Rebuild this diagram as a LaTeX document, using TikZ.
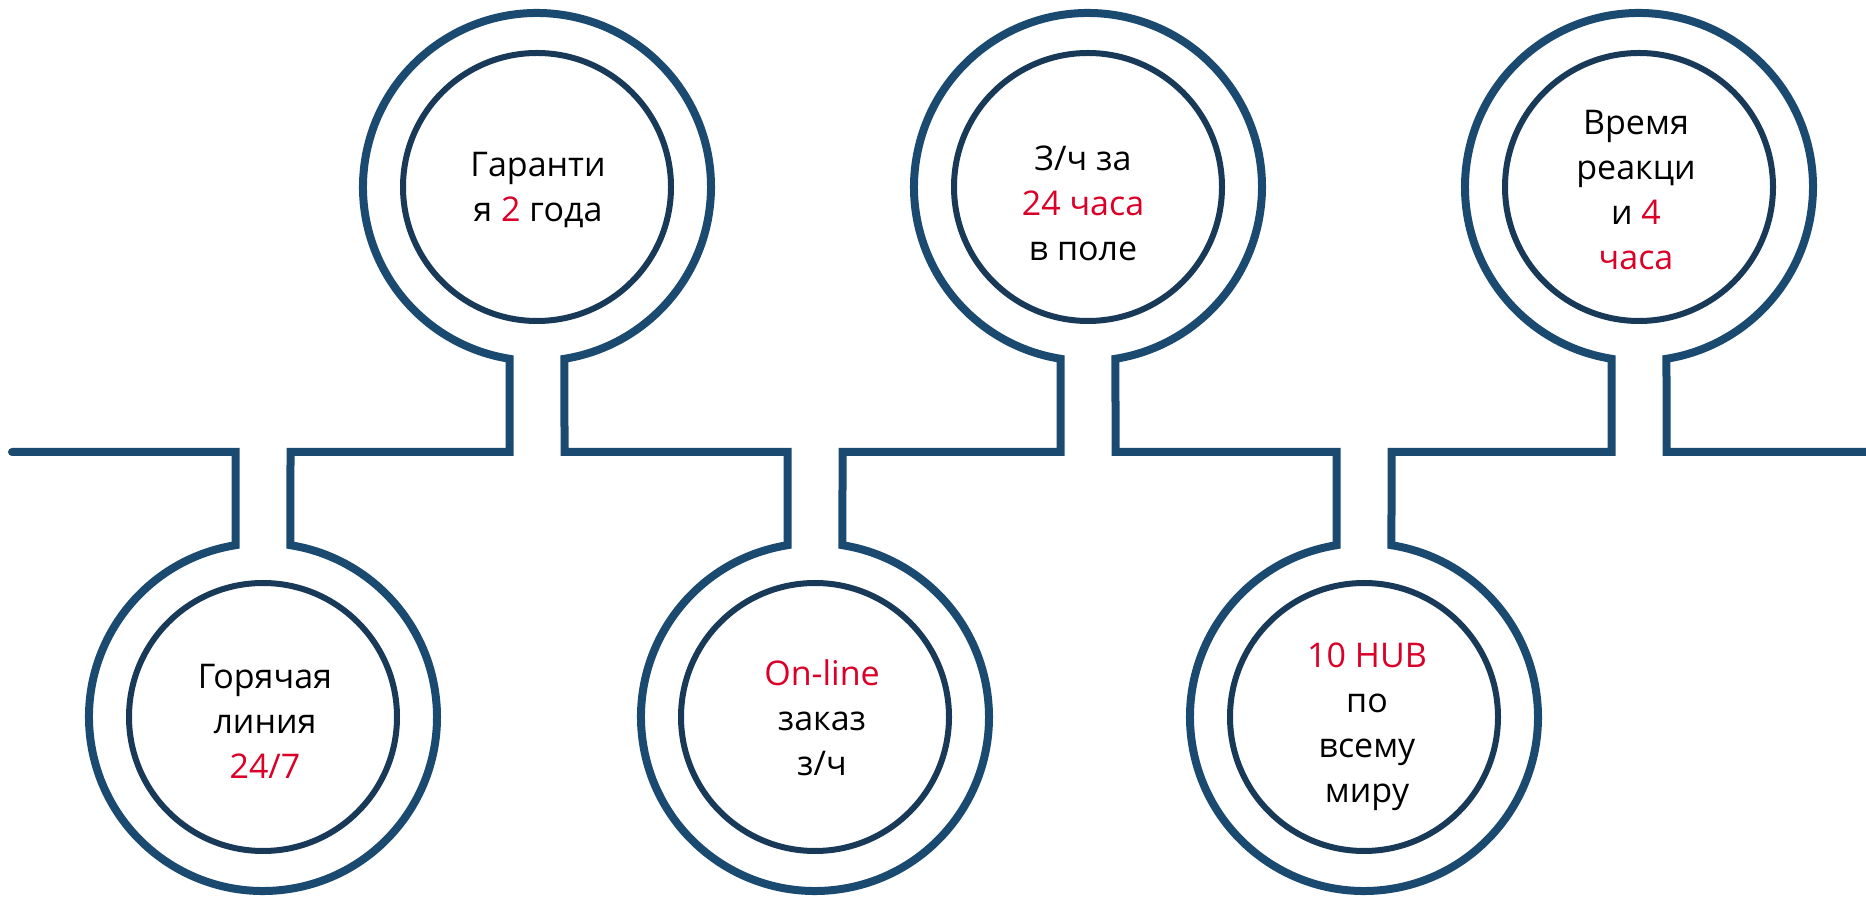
\documentclass[tikz,border=0pt]{standalone}
\usepackage{fontspec}
\setmainfont{Open Sans}
\definecolor{pipeblue}{RGB}{27,74,112}
\definecolor{ringblue}{RGB}{24,58,88}
\definecolor{accent}{RGB}{218,0,40}
\begin{document}
\begin{tikzpicture}[x=1pt,y=1pt,
  pipe/.style={draw=pipeblue, line width=8pt, line join=miter},
  ring/.style={circle, draw=ringblue, line width=6pt, minimum size=268pt, inner sep=0pt},
  lbl/.style={align=center, font=\fontsize{34}{45}\selectfont, text=black, inner sep=0pt}]
\useasboundingbox (0,0) rectangle (1866,897);
% circle centres
\coordinate (b1) at (263,180);
\coordinate (t1) at (537,710);
\coordinate (b2) at (815,180);
\coordinate (t2) at (1088,710);
\coordinate (b3) at (1364,180);
\coordinate (t3) at (1639,710);
\coordinate (lend) at (12,445);
\coordinate (rend) at (1866,445);
% outer pipe outline
\draw[pipe, line cap=round] (lend) -- (235.5,445) -- (235.5,351.8)
  arc[start angle=99.09, end angle=440.91, radius=174] -- (290.5,445)
  -- (509.5,445) -- (509.5,538.2)
  arc[start angle=260.91, end angle=-80.91, radius=174] -- (564.5,445)
  -- (787.5,445) -- (787.5,351.8)
  arc[start angle=99.09, end angle=440.91, radius=174] -- (842.5,445)
  -- (1060.5,445) -- (1060.5,538.2)
  arc[start angle=260.91, end angle=-80.91, radius=174] -- (1115.5,445)
  -- (1336.5,445) -- (1336.5,351.8)
  arc[start angle=99.09, end angle=440.91, radius=174] -- (1391.5,445)
  -- (1611.5,445) -- (1611.5,538.2)
  arc[start angle=260.91, end angle=-80.91, radius=174] -- (1666.5,445)
  -- (rend);
% inner rings
\node[ring] (r1) at (b1) {};
\node[ring] (r2) at (t1) {};
\node[ring] (r3) at (b2) {};
\node[ring] (r4) at (t2) {};
\node[ring] (r5) at (b3) {};
\node[ring] (r6) at (t3) {};
% texts
\node[lbl] (x1) at (265,176) {Горячая\\линия\\\textcolor{accent}{24/7}};
\node[lbl] (x2) at (538,707) {Гаранти\\я \textcolor{accent}{2} года};
\node[lbl] (x3) at (822,179) {\textcolor{accent}{On-line}\\заказ\\з/ч};
\node[lbl] (x4) at (1083,694) {З/ч за\\\textcolor{accent}{24 часа}\\в поле};
\node[lbl] (x5) at (1367,170) {\textcolor{accent}{10 HUB}\\по\\всему\\миру};
\node[lbl] (x6) at (1636,707) {Время\\реакци\\и \textcolor{accent}{4}\\\textcolor{accent}{часа}};
\end{tikzpicture}
\end{document}
